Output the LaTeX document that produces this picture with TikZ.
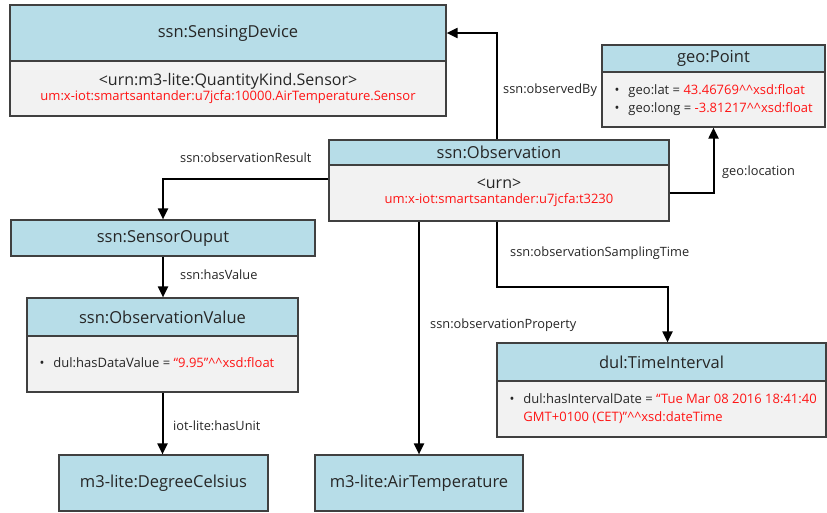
\documentclass[tikz,border=0pt]{standalone}
\usepackage{fontspec}
\setmainfont{Open Sans}
\usetikzlibrary{arrows.meta}

\definecolor{headblue}{RGB}{183,221,232}
\definecolor{bodygray}{RGB}{242,242,242}
\definecolor{boxline}{RGB}{64,64,64}
\definecolor{urnred}{RGB}{255,20,20}
\newcommand{\redtxt}[1]{{\color{urnred}#1}}
\newcommand{\hats}{\textasciicircum\textasciicircum}

\begin{document}
\begin{tikzpicture}[x=1pt, y=-1pt,
  head/.style={draw=boxline, fill=headblue, line width=1.2pt, inner sep=0pt, text=black!85, font=\fontsize{16.5}{19}\selectfont},
  body/.style={draw=boxline, fill=bodygray, line width=1.2pt, inner sep=0pt, align=center, text=black!85},
  bullets/.style={anchor=west, inner sep=0pt, text=black!85, font=\fontsize{13}{18}\selectfont},
  rel/.style={anchor=west, inner sep=0pt, text=black!85, font=\fontsize{12.8}{15}\selectfont},
  arr/.style={line width=2pt, -{Triangle[length=11pt,width=10pt]}}]
\useasboundingbox (0,0) rectangle (827,512);

% sensing device
\node[head, minimum width=436pt, minimum height=56pt] (devHead) at (228,33) {ssn:SensingDevice};
\node[body, minimum width=436pt, minimum height=55pt] (devBody) at (228,88.5)
  {\fontsize{16}{18}\selectfont <urn:m3-lite:QuantityKind.Sensor>\\[0pt]
   \redtxt{\fontsize{13}{15}\selectfont um:x-iot:smartsantander:u7jcfa:10000.AirTemperature.Sensor}};

% geo point
\node[head, minimum width=223pt, minimum height=27pt] (geoHead) at (713.5,58.5) {geo:Point};
\node[body, minimum width=223pt, minimum height=55pt] (geoBody) at (713.5,99.5) {};
\node[bullets] (geoText) at ([xshift=13pt]geoBody.west)
  {\begin{tabular}{@{}l@{\hspace{9pt}}l@{}}
   \textbullet & geo:lat = \redtxt{43.46769\hats xsd:float}\\
   \textbullet & geo:long = \redtxt{-3.81217\hats xsd:float}
   \end{tabular}};

% observation
\node[head, minimum width=340pt, minimum height=25pt] (obsHead) at (499,152.5) {ssn:Observation};
\node[body, minimum width=340pt, minimum height=56pt] (obsBody) at (499,193)
  {\fontsize{16}{18}\selectfont <urn>\\[3pt]
   \redtxt{\fontsize{13}{15}\selectfont um:x-iot:smartsantander:u7jcfa:t3230}};

% result side
\node[head, minimum width=304pt, minimum height=36pt] (outHead) at (163,238) {ssn:SensorOuput};
\node[head, minimum width=271pt, minimum height=38pt] (valHead) at (162.5,317) {ssn:ObservationValue};
\node[body, minimum width=271pt, minimum height=56pt] (valBody) at (162.5,364) {};
\node[bullets] (valText) at ([xshift=13pt]valBody.west)
  {\begin{tabular}{@{}l@{\hspace{9pt}}l@{}}
   \textbullet & dul:hasDataValue = \redtxt{“9.95”\hats xsd:float}
   \end{tabular}};
\node[head, minimum width=209pt, minimum height=56pt] (unitHead) at (163.5,483) {m3-lite:DegreeCelsius};

% property and time
\node[head, minimum width=208pt, minimum height=56pt] (propHead) at (419,483) {m3-lite:AirTemperature};
\node[head, minimum width=329pt, minimum height=38pt] (timeHead) at (661.5,362) {dul:TimeInterval};
\node[body, minimum width=329pt, minimum height=56pt] (timeBody) at (661.5,409) {};
\node[bullets] (timeText) at ([xshift=13pt]timeBody.west)
  {\begin{tabular}{@{}l@{\hspace{9pt}}l@{}}
   \textbullet & dul:hasIntervalDate = \redtxt{“Tue Mar 08 2016 18:41:40}\\
    & \redtxt{GMT+0100 (CET)”\hats xsd:dateTime}
   \end{tabular}};

% connectors
\draw[arr] ([xshift=-2pt]obsHead.north) |- (devHead.east);
\draw[arr] (obsBody.east) -| (geoBody.south);
\draw[arr] ([yshift=14pt]obsBody.west) -| (outHead.north);
\draw[arr] (outHead.south) -- (outHead.south |- valHead.north);
\draw[arr] (valBody.south) -- (valBody.south |- unitHead.north);
\draw[arr] (propHead.north |- obsBody.south) -- (propHead.north);
\draw[arr] ([xshift=-2pt]obsBody.south) -- ++(0,65) -| ([xshift=6pt]timeHead.north);

% labels
\node[rel] (lblObservedBy) at (503,90) {ssn:observedBy};
\node[rel] (lblLocation) at (722,172) {geo:location};
\node[rel] (lblResult) at (180,158) {ssn:observationResult};
\node[rel] (lblSampling) at (510,253) {ssn:observationSamplingTime};
\node[rel] (lblProperty) at (430,325) {ssn:observationProperty};
\node[rel] (lblValue) at (180,275) {ssn:hasValue};
\node[rel] (lblUnit) at (173,426) {iot-lite:hasUnit};
\end{tikzpicture}
\end{document}
